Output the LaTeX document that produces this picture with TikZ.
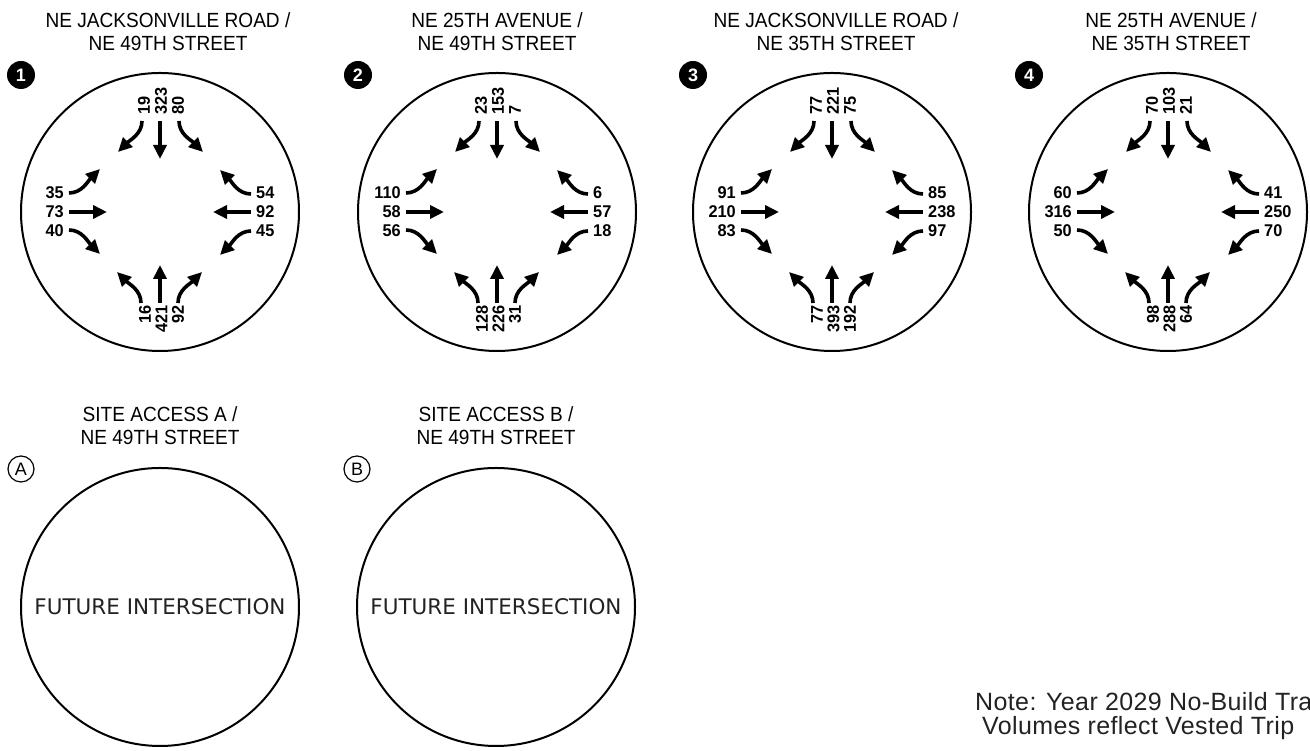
\documentclass[tikz,border=0pt]{standalone}
\usepackage{fontspec}
\setmainfont{Liberation Sans}
\newfontfamily\volfont{Liberation Sans}[FakeStretch=0.96]
\newfontfamily\headfont{Liberation Sans}[FakeStretch=0.93]
\newfontfamily\futfont{DejaVu Sans}
\newfontfamily\notefont{Liberation Sans}[LetterSpace=1.5]
\usetikzlibrary{arrows.meta}
\definecolor{inkgray}{HTML}{222222}

\tikzset{
  ringc/.style={circle, draw=black, line width=2pt, minimum size=278pt, inner sep=0pt, outer sep=0pt},
  mvarrow/.style={line width=3.6pt, -{Triangle[length=14pt,width=13pt]}},
  volnum/.style={inner sep=0pt, font=\volfont\bfseries\fontsize{17}{17}\selectfont},
  headtext/.style={align=center, inner sep=0pt, font=\headfont\fontsize{20.5}{23.5}\selectfont},
  badgenum/.style={circle, fill=black, text=white, minimum size=28pt, inner sep=0pt, font=\bfseries\fontsize{18}{18}\selectfont},
  lettertag/.style={circle, draw=black, line width=1.2pt, minimum size=26pt, inner sep=0pt, font=\fontsize{18}{18}\selectfont},
  futuretext/.style={font=\futfont\fontsize{21.5}{21.5}\selectfont, text=inkgray},
  notetext/.style={anchor=base west, inner sep=0pt, font=\notefont\fontsize{25}{25}\selectfont, text=inkgray},
  approach/.pic={
    \draw[mvarrow] (0,91) -- (0,53);
    \draw[mvarrow] (-18,91) .. controls (-18,78) and (-30,72) .. (-42,60);
    \draw[mvarrow] (19,91) .. controls (19,78) and (31,72) .. (43,60);
  },
}

% turning volumes around one intersection: north, west, east, south
\newcommand\volumes[5]{%
  \foreach \val [count=\i] in {#2}
    \node[volnum, rotate=90, anchor=west] (#1-n\i) at ([shift={({(\i-2)*17+1},97)}]#1) {\val};
  \foreach \val [count=\i] in {#3}
    \node[volnum, anchor=east] (#1-w\i) at ([shift={(-96,{(2-\i)*19})}]#1) {\val};
  \foreach \val [count=\i] in {#4}
    \node[volnum, anchor=west] (#1-e\i) at ([shift={(96,{(2-\i)*19})}]#1) {\val};
  \foreach \val [count=\i] in {#5}
    \node[volnum, rotate=90, anchor=east] (#1-s\i) at ([shift={({(\i-2)*16.5+1.5},-93)}]#1) {\val};
  \foreach \r in {0,90,180,270} \pic[rotate=\r] at (#1) {approach};
}

\begin{document}
\begin{tikzpicture}[x=1pt,y=1pt]
\useasboundingbox (0,0) rectangle (1310,751);
\clip (0,0) rectangle (1310,751);

% top row: existing intersections
\node[ringc] (c1) at (160,539) {};
\node[ringc] (c2) at (497,539) {};
\node[ringc] (c3) at (832,539) {};
\node[ringc] (c4) at (1168,539) {};

\node[headtext] (h1) at (168,719.5) {NE JACKSONVILLE ROAD /\\NE 49TH STREET};
\node[headtext] (h2) at (497,719.5) {NE 25TH AVENUE /\\NE 49TH STREET};
\node[headtext] (h3) at (836,719.5) {NE JACKSONVILLE ROAD /\\NE 35TH STREET};
\node[headtext] (h4) at (1171,719.5) {NE 25TH AVENUE /\\NE 35TH STREET};

\node[badgenum] (b1) at (21,676) {1};
\node[badgenum] (b2) at (358,676) {2};
\node[badgenum] (b3) at (693,676) {3};
\node[badgenum] (b4) at (1029,676) {4};

\volumes{c1}{19,323,80}{35,73,40}{54,92,45}{16,421,92}
\volumes{c2}{23,153,7}{110,58,56}{6,57,18}{128,226,31}
\volumes{c3}{77,221,75}{91,210,83}{85,238,97}{77,393,192}
\volumes{c4}{70,103,21}{60,316,50}{41,250,70}{98,288,64}

% bottom row: site accesses
\node[ringc] (cA) at (160,144) {};
\node[ringc] (cB) at (496,144) {};
\node[futuretext] (fA) at (cA) {FUTURE INTERSECTION};
\node[futuretext] (fB) at (cB) {FUTURE INTERSECTION};
\node[headtext] (hA) at (160,325.5) {SITE ACCESS A /\\NE 49TH STREET};
\node[headtext] (hB) at (496,325.5) {SITE ACCESS B /\\NE 49TH STREET};
\node[lettertag] (tA) at (21,282) {A};
\node[lettertag] (tB) at (357,282) {B};

% note
\node[notetext] (n1) at (975,40) {Note: Year 2029 No-Build Tra};
\node[notetext] (n2) at (982,16) {Volumes reflect Vested Trip};
\end{tikzpicture}
\end{document}
